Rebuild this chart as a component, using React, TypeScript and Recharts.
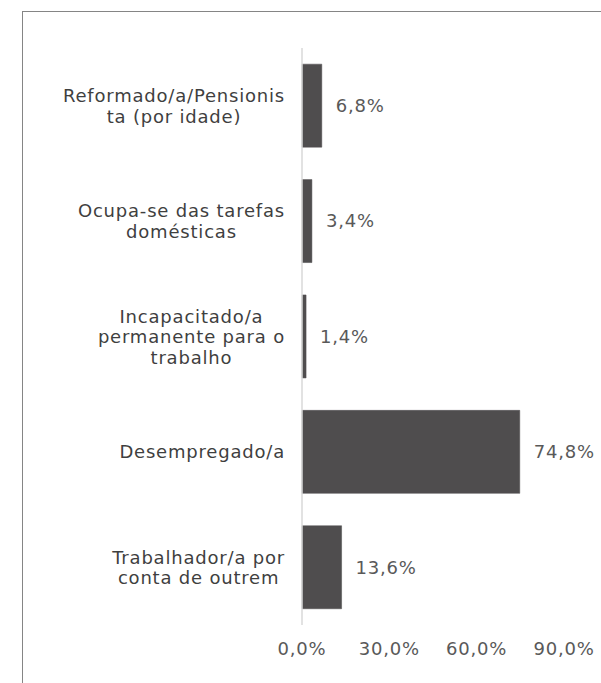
import React from "react";
import { BarChart, Bar, XAxis, YAxis, LabelList } from "recharts";

const CATEGORIES = [
  ["Reformado/a/Pensionis", "ta (por idade)"],
  ["Ocupa-se das tarefas", "domésticas"],
  ["Incapacitado/a", "permanente para o", "trabalho"],
  ["Desempregado/a"],
  ["Trabalhador/a por", "conta de outrem"],
];
const VALUES = [6.8, 3.4, 1.4, 74.8, 13.6];
const X_TICKS = [0, 30, 60, 90];

const data = CATEGORIES.map((lines, i) => ({ name: lines.join(" "), lines, value: VALUES[i] }));

const FONT = "DejaVu Sans, sans-serif";
const FS = 18;
const LS = 0.8;
const fmt = (v: number) => v.toFixed(1).replace(".", ",") + "%";

let ctx: CanvasRenderingContext2D | null = null;
function textWidth(s: string) {
  if (!ctx) ctx = document.createElement("canvas").getContext("2d");
  if (!ctx) return s.length * FS * 0.6;
  ctx.font = `${FS}px ${FONT}`;
  return ctx.measureText(s).width + LS * s.length;
}

function CategoryTick(props: any) {
  const { x, y, index } = props;
  const lines: string[] = data[index]?.lines || [String(props.payload.value)];
  const maxW = Math.max(...lines.map(textWidth));
  const right = x - 9;
  const cx = right - maxW / 2;
  const lh = 20.5;
  const capH = FS * 0.73;
  return (
    <text textAnchor="middle" fill="#3f3f3f" fontSize={FS} fontFamily={FONT} letterSpacing={LS}>
      {lines.map((l, i) => (
        <tspan key={i} x={cx} y={y + (i - (lines.length - 1) / 2) * lh + capH / 2}>{l}</tspan>
      ))}
    </text>
  );
}

export default function App() {
  return (
    <div style={{ position: "absolute", left: 0, top: 0, width: 601, height: 683, overflow: "hidden", background: "#fff" }}>
      <div style={{ position: "absolute", left: 22, top: 11, width: 700, height: 800, borderLeft: "1.5px solid #858585", borderTop: "1.5px solid #858585" }} />
      <div style={{ position: "absolute", left: 0, top: 0 }}>
        <BarChart
          width={601}
          height={683}
          data={data}
          layout="vertical"
          margin={{ top: 48, right: 37, left: 12, bottom: 28 }}
          barCategoryGap="14%"
        >
          <XAxis
            type="number"
            domain={[0, 90]}
            ticks={X_TICKS}
            tickFormatter={fmt}
            axisLine={false}
            tickLine={false}
            height={30}
            tickMargin={11}
            tick={{ fill: "#595959", fontSize: FS, fontFamily: FONT, letterSpacing: LS }}
          />
          <YAxis
            type="category"
            dataKey="name"
            width={290}
            axisLine={{ stroke: "#d9d9d9", strokeWidth: 1.5 }}
            tickLine={false}
            tick={<CategoryTick />}
          />
          <Bar dataKey="value" fill="#4f4d4e" stroke="#4f4d4e" strokeWidth={0.5} isAnimationActive={false}>
            <LabelList
              dataKey="value"
              position="right"
              offset={14}
              formatter={(v: any) => fmt(Number(v))}
              fill="#595959"
              fontSize={FS}
              fontFamily={FONT}
              letterSpacing={LS}
            />
          </Bar>
        </BarChart>
      </div>
    </div>
  );
}
